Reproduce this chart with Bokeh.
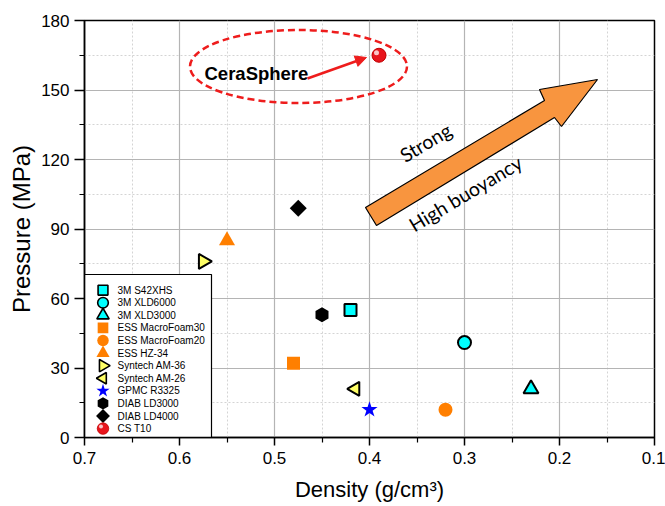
import math
from bokeh.plotting import figure
from bokeh.models import Range1d, FixedTicker, Arrow, NormalHead
from bokeh.core.properties import value
from bokeh.embed import file_html
from bokeh.resources import INLINE

# ---- data ----
names = ["3M S42XHS", "3M XLD6000", "3M XLD3000", "ESS MacroFoam30", "ESS MacroFoam20",
         "ESS HZ-34", "Syntech AM-36", "Syntech AM-26", "GPMC R3325", "DIAB LD3000",
         "DIAB LD4000", "CS T10"]
density = [0.42, 0.30, 0.23, 0.48, 0.32, 0.55, 0.575, 0.415, 0.40, 0.45, 0.475, 0.39]
pressure = [55, 41, 21, 32, 12, 85, 76, 21, 12, 53, 99, 165]

markers = ["square", "circle", "triangle", "square", "circle", "triangle", "triangle",
           "triangle", "star", "hex", "square", "circle"]
fills = ["#00ffff", "#00ffff", "#00ffff", "#ff7f00", "#ff7f00", "#ff7f00", "#ffff66",
         "#ffff66", "#0000ff", "#000000", "#000000", "#e8141c"]
lines = ["#000000", "#000000", "#000000", "#ff7f00", "#ff7f00", "#ff7f00", "#000000",
         "#000000", "#0000ff", "#000000", "#000000", "#c00000"]
line_w = [2.0, 2.0, 2.0, 0, 0, 0, 2.0, 2.0, 0, 0, 0, 1.0]
angles_deg = [0, 0, 0, 0, 0, 0, -90, 90, 0, 30, 45, 0]
sizes = [12, 13, 15, 13, 14, 16, 15, 14, 17, 15, 12, 14]

x_ticks = [0.7, 0.6, 0.5, 0.4, 0.3, 0.2, 0.1]
x_minor = [0.65, 0.55, 0.45, 0.35, 0.25, 0.15]
y_ticks = [0, 30, 60, 90, 120, 150, 180]
y_minor = [15, 45, 75, 105, 135, 165]

# ---- figure ----
W, H = 665, 506
L, R, T, B = 84, 11, 20, 69
p = figure(width=W, height=H, output_backend="svg", toolbar_location=None,
           x_range=Range1d(0.7, 0.1), y_range=Range1d(0, 180),
           min_border_left=L, min_border_right=R, min_border_top=T, min_border_bottom=B,
           background_fill_color="white", border_fill_color="white")
p.outline_line_color = "black"
p.outline_line_width = 1.5

# pixel helpers (for annotations only)
fw, fh = W - L - R, H - T - B
def px2x(px):
    return 0.7 - (px - L) / fw * 0.6
def py2y(py):
    return (H - B - py) / fh * 180

for ax in (p.xaxis[0], p.yaxis[0]):
    ax.axis_line_width = 1.5
    ax.axis_line_color = "black"
    ax.major_tick_line_width = 1.5
    ax.minor_tick_line_width = 1.2
    ax.major_tick_in = 0
    ax.minor_tick_in = 0
    ax.minor_tick_out = 5
    ax.major_label_text_font = "Liberation Sans"
    ax.major_label_text_font_size = "17px"
    ax.major_label_text_color = "black"
    ax.axis_label_text_font = "Liberation Sans"
    ax.axis_label_text_font_style = "normal"
    ax.axis_label_text_color = "black"

p.xaxis.major_tick_out = 8
p.yaxis.major_tick_out = 10
p.xaxis.major_label_standoff = 6
p.yaxis.major_label_standoff = 5
p.xaxis.ticker = FixedTicker(ticks=x_ticks, minor_ticks=x_minor)
p.yaxis.ticker = FixedTicker(ticks=y_ticks, minor_ticks=y_minor)
p.xaxis.major_label_overrides = {t: f"{t:.1f}" for t in x_ticks}
p.xaxis.axis_label = "Density (g/cm\u00b3)"
p.yaxis.axis_label = "Pressure (MPa)"
p.xaxis.axis_label_text_font_size = "22px"
p.yaxis.axis_label_text_font_size = "24px"
p.xaxis.axis_label_standoff = 10
p.yaxis.axis_label_standoff = 3

for g in (p.xgrid[0], p.ygrid[0]):
    g.grid_line_color = "#b4b4b4"
    g.grid_line_width = 1.2
    g.minor_grid_line_color = "#d4d4d4"
    g.minor_grid_line_dash = "2 2"
    g.minor_grid_line_width = 1

# ---- big orange arrow (annotation) ----
arrow_px = [(365, 207), (544, 100), (539, 89), (597, 79), (561, 126), (554, 117), (376, 225)]
p.patch([px2x(a) for a, b in arrow_px], [py2y(b) for a, b in arrow_px],
        fill_color="#f8953f", line_color="black", line_width=1.2)

ang = math.radians(31)
p.text(x=[px2x(425)], y=[py2y(142)], text=["Strong"], angle=ang,
       text_font=value("Lato"), text_font_size="19.5px", text_color="black",
       text_align="center", text_baseline="middle")
p.text(x=[px2x(465)], y=[py2y(193)], text=["High buoyancy"], angle=ang,
       text_font=value("Lato"), text_font_size="19.5px", text_color="black",
       text_align="center", text_baseline="middle")

# ---- CeraSphere callout ----
p.ellipse(x=[px2x(298)], y=[py2y(66)], width=217, height=73,
          width_units="screen", height_units="screen",
          fill_color=None, line_color="#ee1c1c", line_width=2.5, line_dash="7 4")
p.text(x=[px2x(204)], y=[py2y(73)], text=["CeraSphere"],
       text_font=value("Liberation Sans"), text_font_style="bold", text_font_size="18.5px",
       text_color="black", text_align="left", text_baseline="alphabetic")
p.add_layout(Arrow(end=NormalHead(size=11, fill_color="#ee1c1c", line_color="#ee1c1c"),
                   x_start=px2x(307), y_start=py2y(78), x_end=px2x(366), y_end=py2y(57),
                   line_color="#ee1c1c", line_width=2.5))

# ---- data points ----
for i in range(len(names)):
    p.scatter(x=[density[i]], y=[pressure[i]], marker=markers[i], size=sizes[i],
              angle=math.radians(angles_deg[i]), fill_color=fills[i],
              line_color=lines[i], line_width=line_w[i] if line_w[i] > 0 else 1,
              line_alpha=1.0 if line_w[i] > 0 else 0.0)
# sphere highlight for CS T10
ci = names.index("CS T10")
p.scatter(x=[density[ci] + 2.5 / fw * 0.6], y=[pressure[ci] + 2.5 / fh * 180],
          marker="circle", size=5, fill_color="white", fill_alpha=0.75, line_alpha=0)

# ---- legend (drawn box) ----
lg_left, lg_right, lg_top, lg_bot = 84, 211, 274, 437
p.quad(left=[px2x(lg_left)], right=[px2x(lg_right)], top=[py2y(lg_top)], bottom=[py2y(lg_bot)],
       fill_color="white", line_color="black", line_width=1.2)
row0, pitch = 289.7, 12.58
for i in range(len(names)):
    yy = py2y(row0 + i * pitch)
    p.scatter(x=[px2x(102.5)], y=[yy], marker=markers[i], size=sizes[i] * 0.82,
              angle=math.radians(angles_deg[i]), fill_color=fills[i],
              line_color=lines[i], line_width=line_w[i] * 0.8 if line_w[i] > 0 else 1,
              line_alpha=1.0 if line_w[i] > 0 else 0.0)
    p.text(x=[px2x(117)], y=[yy], text=[names[i]], text_font=value("Liberation Sans"),
           text_font_size="10px", text_color="black", text_align="left",
           text_baseline="middle")
p.scatter(x=[px2x(102.5) + 2 / fw * 0.6], y=[py2y(row0 + ci * pitch) + 2 / fh * 180],
          marker="circle", size=4, fill_color="white", fill_alpha=0.75, line_alpha=0)

open("out.html", "w").write(file_html(p, INLINE))
